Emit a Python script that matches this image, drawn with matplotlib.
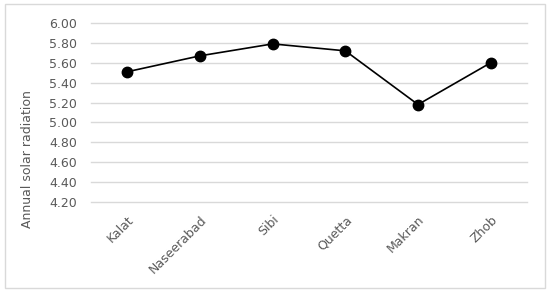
import matplotlib.pyplot as plt
from matplotlib.patches import Rectangle

regions = ["Kalat", "Naseerabad", "Sibi", "Quetta", "Makran", "Zhob"]
radiation = [5.51, 5.67, 5.79, 5.72, 5.18, 5.60]
yticks = [4.20, 4.40, 4.60, 4.80, 5.00, 5.20, 5.40, 5.60, 5.80, 6.00]

fig = plt.figure(figsize=(5.5, 2.93), dpi=100)
ax = fig.add_axes([0.1655, 0.3106, 0.7927, 0.6109])

# chart border
fig.patches.append(Rectangle((0.009, 0.017), 0.981, 0.969, transform=fig.transFigure,
                             fill=False, edgecolor='#d9d9d9', linewidth=1))

x = range(len(regions))
ax.plot(x, radiation, color='black', linewidth=1.2, marker='o', markersize=7.5)

ax.set_xlim(-0.5, len(regions) - 0.5)
ax.set_ylim(4.2, 6.0)
ax.set_yticks(yticks)
ax.set_yticklabels([f"{v:.2f}" for v in yticks])
ax.set_xticks(list(x))
ax.set_xticklabels(regions, rotation=45, ha='right', rotation_mode='anchor')
ax.grid(axis='y', color='#d9d9d9', linewidth=1)
for gl in ax.get_ygridlines():
    gl.set_clip_on(False)
ax.set_axisbelow(True)
for s in ax.spines.values():
    s.set_visible(False)
ax.tick_params(axis='y', length=0, labelsize=9, colors='#595959', pad=10)
ax.tick_params(axis='x', length=0, labelsize=9, colors='#595959', pad=8)

# y-axis title sits lower than the plot centre, as in the original
fig.text(28 / 550, 1 - 159 / 293, "Annual solar radiation", rotation=90,
         ha='center', va='center', fontsize=9, color='#595959')

fig.savefig("out.png", dpi=100)
